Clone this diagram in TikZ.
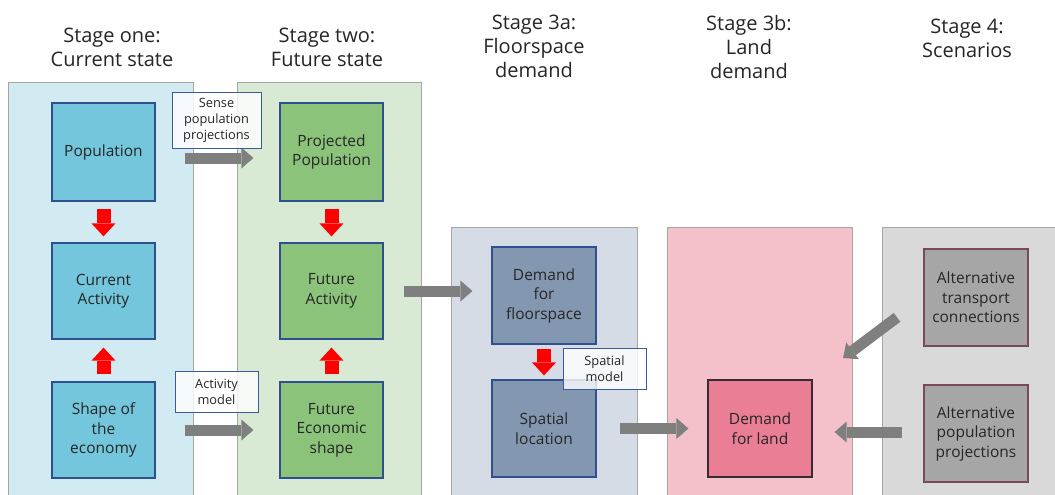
\documentclass[tikz,border=0pt]{standalone}
\usepackage{fontspec}
\setmainfont{Open Sans}
\usetikzlibrary{arrows.meta}

\definecolor{ink}{HTML}{262626}
\definecolor{framegray}{HTML}{A6A6A6}
\definecolor{boxline}{HTML}{2F4F8F}
\definecolor{tagline}{HTML}{3A5A9A}
\definecolor{stageblue}{HTML}{D2EAF1}
\definecolor{bluebox}{HTML}{74C6DC}
\definecolor{stagegreen}{HTML}{D8EAD3}
\definecolor{greenbox}{HTML}{8BC37B}
\definecolor{stageslate}{HTML}{D6DCE5}
\definecolor{slatebox}{HTML}{8497B0}
\definecolor{stagepink}{HTML}{F4C1CB}
\definecolor{pinkbox}{HTML}{E97E94}
\definecolor{stagegray}{HTML}{D9D9D9}
\definecolor{graybox}{HTML}{A6A6A6}
\definecolor{maroonline}{HTML}{7B4A5A}
\definecolor{arrowgray}{HTML}{7F7F7F}
\definecolor{arrowred}{HTML}{FF0000}

\begin{document}
\begin{tikzpicture}[x=1pt,y=-1pt,
  stagebg/.style={draw=framegray, line width=1pt},
  title/.style={font=\fontsize{20}{24}\selectfont, text=ink, align=center,
    anchor=north, inner sep=0pt},
  block/.style={draw=boxline, line width=1.2pt, minimum width=103pt,
    minimum height=97pt, inner sep=2pt, align=center, text=ink,
    font=\fontsize{15.5}{19.5}\selectfont},
  tag/.style={draw=tagline, line width=0.9pt, fill=white, fill opacity=0.8,
    text opacity=1, align=center, text=ink, inner sep=1pt,
    font=\fontsize{12.8}{16}\selectfont},
  grayarrow/.style={draw=arrowgray, line width=11pt,
    -{Triangle[length=12pt,width=21pt,line width=0pt]}},
  redarrow/.style={draw=arrowred, line width=14pt,
    -{Triangle[length=13pt,width=24pt,line width=0pt]}}]

\useasboundingbox (0,0) rectangle (1055,495);

% stage panels
\fill[white] (0,0) rectangle (1055,495);
\filldraw[stagebg, fill=stageblue]  (8,83)   rectangle (193,500);
\filldraw[stagebg, fill=stagegreen] (237,83) rectangle (421,500);
\filldraw[stagebg, fill=stageslate] (451,227) rectangle (637,500);
\filldraw[stagebg, fill=stagepink]  (667,227) rectangle (852,500);
\filldraw[stagebg, fill=stagegray]  (882,227) rectangle (1065,500);

% stage titles
\node[title] (t1) at (112,28) {Stage one:\\Current state};
\node[title] (t2) at (327,28) {Stage two:\\Future state};
\node[title] (t3a) at (534,15) {Stage 3a:\\Floorspace\\demand};
\node[title] (t3b) at (749,15) {Stage 3b:\\Land\\demand};
\node[title] (t4) at (967,19) {Stage 4:\\Scenarios};

% stage one
\node[block, fill=bluebox, minimum height=98pt] (pop) at (103.5,152) {Population};
\node[block, fill=bluebox, minimum height=96pt] (curact) at (103.5,291) {Current\\Activity};
\node[block, fill=bluebox, minimum height=96pt] (shape) at (103.5,430) {Shape of\\the\\economy};

% stage two
\node[block, fill=greenbox, minimum height=98pt] (proj) at (331.5,152) {Projected\\Population};
\node[block, fill=greenbox, minimum height=96pt] (futact) at (331.5,291) {Future\\Activity};
\node[block, fill=greenbox, minimum height=96pt] (futeco) at (331.5,430) {Future\\Economic\\shape};

% stage 3a
\node[block, fill=slatebox, minimum width=104pt] (dfloor) at (544,295.5) {Demand\\for\\floorspace};
\node[block, fill=slatebox, minimum width=104pt] (sloc) at (544,428.5) {Spatial\\location};

% stage 3b
\node[block, fill=pinkbox, draw=ink!80!maroonline, minimum width=104pt] (land) at (760,428.5) {Demand\\for land};

% stage 4
\node[block, fill=graybox, draw=maroonline, minimum width=104pt] (alttrans) at (976,297.5) {Alternative\\transport\\connections};
\node[block, fill=graybox, draw=maroonline, minimum width=104pt] (altpop) at (976,433.5) {Alternative\\population\\projections};

% flows within stages
\draw[redarrow, shorten <=7pt, shorten >=6pt] (pop.south) -- (curact.north);
\draw[redarrow, shorten <=7pt, shorten >=8pt] (shape.north) -- (curact.south);
\draw[redarrow, shorten <=7pt, shorten >=6pt] (proj.south) -- (futact.north);
\draw[redarrow, shorten <=7pt, shorten >=8pt] (futeco.north) -- (futact.south);
\draw[redarrow, shorten <=4pt, shorten >=4pt] (dfloor.south) -- (sloc.north);

% flows between stages
\draw[grayarrow, shorten <=29pt, shorten >=26pt] ([yshift=-6pt]pop.east) -- ([yshift=-6pt]proj.west);
\draw[grayarrow, shorten <=29pt, shorten >=26pt] (shape.east) -- (futeco.west);
\draw[grayarrow, shorten <=20pt, shorten >=19pt] (futact.east) -- (futact.east -| dfloor.west);
\draw[grayarrow, shorten <=23pt, shorten >=19pt] (sloc.east) -- (sloc.east -| land.west);
\draw[grayarrow, shorten <=21pt, shorten >=22pt] ([yshift=1.5pt]altpop.west) -- ([yshift=1.5pt]altpop.west -| land.east);
\coordinate (ttip) at (843,358);
\draw[grayarrow, shorten <=33pt] (alttrans.west) -- (ttip);

% method labels
\node[tag, minimum width=89pt, minimum height=56pt] (lsense) at (216.5,120) {Sense\\population\\projections};
\node[tag, minimum width=83pt, minimum height=41pt] (lact) at (216.5,391.5) {Activity\\model};
\node[tag, minimum width=83pt, minimum height=41pt] (lspat) at (604.5,368.5) {Spatial\\model};

\end{tikzpicture}
\end{document}
